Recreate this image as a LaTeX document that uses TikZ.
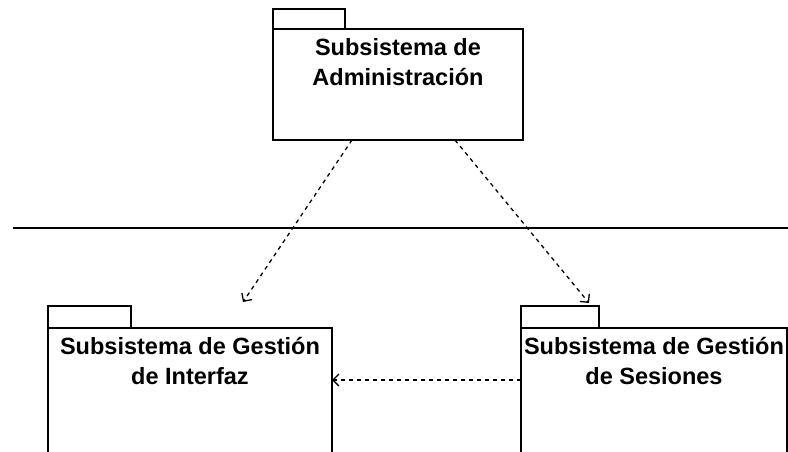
\documentclass[tikz,border=0pt]{standalone}
\usepackage{fontspec}
\setmainfont{Liberation Sans}
\usetikzlibrary{arrows.meta}

\begin{document}
\begin{tikzpicture}[x=1pt, y=-1pt,
   pkg/.style = {draw, line width=1.5pt, anchor=north west, inner sep=0pt, outer sep=0pt},
   pkgname/.style = {anchor=north, align=center, inner sep=0pt,
      font=\fontsize{23.5}{30}\selectfont\bfseries},
   dep/.style = {line width=1.3pt, dash pattern=on 4pt off 4pt,
      -{Straight Barb[length=6pt,width=12pt,line width=1.3pt]}}]
   \clip (0,0) rectangle (788,451);
   \fill[white] (0,0) rectangle (788,451);
   % Administracion
   \node[pkg, minimum width=72pt, minimum height=20pt] (admintab) at (273,9) {};
   \node[pkg, minimum width=250pt, minimum height=111pt] (admin) at (273,29) {};
   \node[pkgname, yshift=-5pt] (adminname) at (admin.north)
      {\strut Subsistema de\\\strut Administración};
   % separador
   \coordinate (sepleft) at (13,228);
   \coordinate (sepright) at (788,228);
   \draw[line width=1.5pt] (sepleft) -- (sepright);
   % Interfaz
   \node[pkg, minimum width=83pt, minimum height=22pt] (interfaztab) at (48,306) {};
   \node[pkg, minimum width=284pt, minimum height=160pt] (interfaz) at (48,328) {};
   \node[pkgname, yshift=-5pt] (interfazname) at (interfaz.north)
      {\strut Subsistema de Gestión\\\strut de Interfaz};
   % Sesiones
   \node[pkg, minimum width=78pt, minimum height=22pt] (sesionestab) at (521,306) {};
   \node[pkg, minimum width=266pt, minimum height=160pt] (sesiones) at (521,328) {};
   \node[pkgname, yshift=-5pt] (sesionesname) at (sesiones.north)
      {\strut Subsistema de Gestión\\\strut de Sesiones};
   % dependencias
   \coordinate (interfaztip) at (243,302);
   \coordinate (sesionestip) at (589,303);
   \draw[dep] ([xshift=-46pt]admin.south) -- (interfaztip);
   \draw[dep] ([xshift=57pt]admin.south) -- (sesionestip);
   \draw[dep] ([yshift=-52pt]sesiones.north west) -- ([yshift=-52pt]interfaz.north east);
\end{tikzpicture}
\end{document}
